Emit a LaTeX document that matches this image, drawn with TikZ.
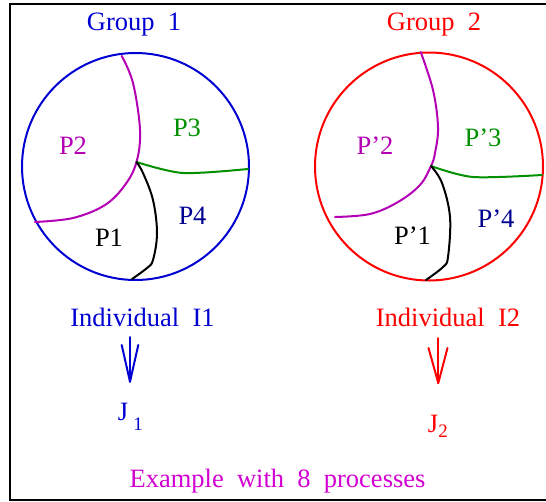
\documentclass[tikz,border=0pt]{standalone}
\usepackage{fontspec}
\setmainfont{Liberation Serif}
\definecolor{cblue}{RGB}{0,0,210}
\definecolor{cnavy}{RGB}{0,0,144}
\definecolor{cgreen}{RGB}{0,144,0}
\definecolor{cmag}{RGB}{180,0,180}
\definecolor{cmagtext}{RGB}{210,0,210}
\definecolor{cred}{RGB}{255,0,0}
\tikzset{
  lbl/.style={anchor=base, inner sep=0pt, font=\fontsize{26.5}{30}\selectfont},
  sublbl/.style={anchor=base, inner sep=0pt, font=\fontsize{19}{23}\selectfont},
  ring/.style={line width=2pt},
  part/.style={line width=2pt, line cap=round, line join=round},
  arr/.style={line width=2pt, line cap=round, line join=round}
}
\begin{document}
\begin{tikzpicture}[x=1pt,y=-1pt]
\useasboundingbox (0,0) rectangle (546,501);
\draw[line width=2pt] (10,3.5) rectangle (560,500);

% ---- Group 1 ----
\node[lbl, text=cblue] (g1) at (134,30) {Group\ \ 1};
\draw[ring, cblue] (135.5,166.5) circle[radius=113.5];
\coordinate (j1) at (136.5,162);
\draw[part, cmag] plot[smooth, tension=0.6] coordinates {(121.7,56) (133,83) (140,130) (136.5,162) (125,185) (105,205) (73,218) (35,222)};
\draw[part, cgreen] plot[smooth, tension=0.5] coordinates {(136.5,162) (183,173) (248,169)};
\draw[part, black] plot[smooth, tension=0.6] coordinates {(136.5,162) (143,173) (153,200) (157,233) (153,260) (147,268) (132,279)};
\node[lbl, text=cmag] (p2) at (73,154) {P2};
\node[lbl, text=cgreen] (p3) at (187,136) {P3};
\node[lbl, text=cnavy] (p4) at (192.5,224) {P4};
\node[lbl, text=black] (p1) at (109,246.7) {P1};

\node[lbl, text=cblue] (i1) at (142.5,326) {Individual\ \ I1};
\coordinate (a1s) at (130,337);
\coordinate (a1t) at (130,381.7);
\draw[arr, cblue] (a1s) -- (a1t);
\draw[arr, cblue] (121.7,345) -- (a1t) -- (138.3,345);
\node[lbl, text=cblue] (J1) at (123,420) {J};
\node[sublbl, text=cblue] (J1s) at (138,430) {1};

% ---- Group 2 ----
\node[lbl, text=cred] (g2) at (434,30) {Group\ \ 2};
\draw[ring, cred] (429,166.5) circle[radius=114];
\coordinate (j2) at (431,166);
\draw[part, cmag] plot[smooth, tension=0.6] coordinates {(420.7,52) (433,90) (438,127) (435,153) (431,166) (420,185) (398,202) (370,214) (335,217)};
\draw[part, cgreen] plot[smooth, tension=0.5] coordinates {(431,166) (473,177) (542,175)};
\draw[part, black] plot[smooth, tension=0.6] coordinates {(431,166) (442,183) (450,217) (448,257) (443,267) (426,280)};
\node[lbl, text=cmag] (q2) at (375,154) {P’2};
\node[lbl, text=cgreen] (q3) at (483,146.7) {P’3};
\node[lbl, text=cnavy] (q4) at (496,227) {P’4};
\node[lbl, text=black] (q1) at (412.5,244) {P’1};

\node[lbl, text=cred] (i2) at (448,326) {Individual\ \ I2};
\coordinate (a2s) at (438.3,338);
\coordinate (a2t) at (438.3,383);
\draw[arr, cred] (a2s) -- (a2t);
\draw[arr, cred] (428.5,348) -- (a2t) -- (447.5,348);
\node[lbl, text=cred] (J2) at (433,432) {J};
\node[sublbl, text=cred] (J2s) at (443,437) {2};

\node[lbl, text=cmagtext] (ex) at (277.5,487) {Example\ \ with\ \ 8\ \ processes};
\end{tikzpicture}
\end{document}
